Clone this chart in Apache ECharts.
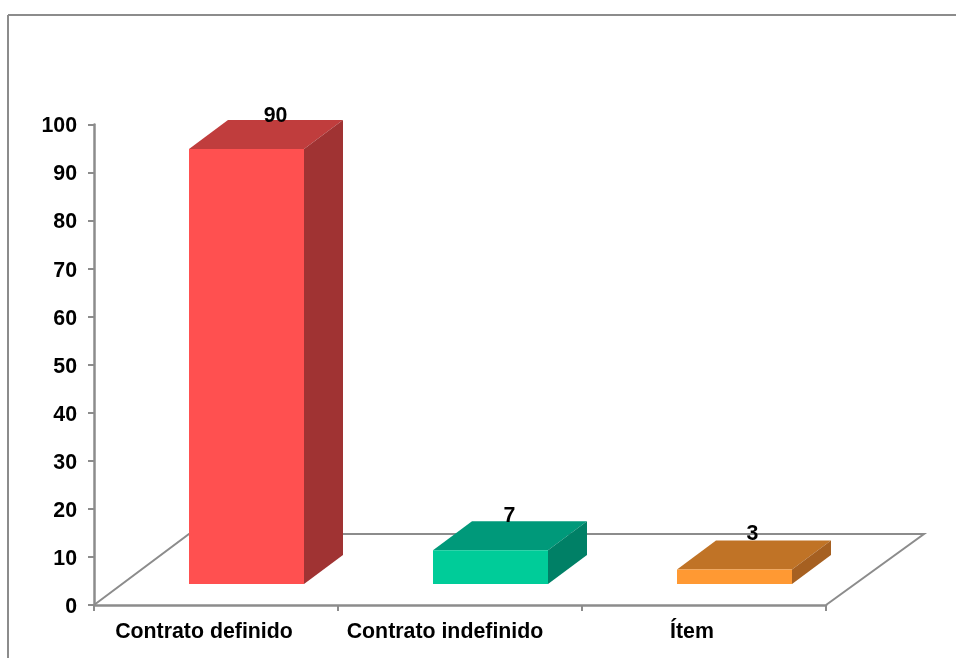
<!DOCTYPE html>
<html>
<head>
<meta charset="utf-8">
<style>
  html, body { margin: 0; padding: 0; background: #fff; }
  #chart { width: 956px; height: 658px; }
</style>
<script src="https://cdn.jsdelivr.net/npm/echarts@6/dist/echarts.min.js"></script>
</head>
<body>
<div id="chart"></div>
<script>
// Employment contract types, share per category
const categories = ['Contrato definido', 'Contrato indefinido', 'Ítem'];
const values = [90, 7, 3];
const yTicks = { min: 0, max: 100, interval: 10 };

// Face colours of each box: front, top, side
const frontColors = ['#FF5050', '#00CC99', '#FF9933'];
const topColors = ['#C03D3D', '#00997A', '#C07326'];
const sideColors = ['#A03333', '#008066', '#A66021'];

// Oblique projection of the boxes and of the floor
const boxWidth = 115;
const boxDepthX = 39;
const boxDepthY = 29;
const boxShiftX = 30;
const boxLiftY = 21;
const boxHeightScale = 1.006;
const floorDepthX = 95;
const floorDepthY = 71;
const labelShiftX = [-1, -11, -12];
const labelLiftY = [33, 34, 35];
const categoryLabelPad = [24, 30, 24];
const gray = '#8C8C8C';
const fontFamily = '"Liberation Sans", Arial, sans-serif';
const fontSize = 21.33;

const chart = echarts.init(document.getElementById('chart'), null, { renderer: 'canvas' });

function poly(points, fill) {
  return { type: 'polygon', shape: { points }, style: { fill } };
}

function renderFloor(params, api) {
  const c = params.coordSys;
  const y0 = c.y + c.height;
  return {
    type: 'polyline',
    silent: true,
    shape: {
      points: [
        [c.x, y0],
        [c.x + floorDepthX, y0 - floorDepthY],
        [c.x + c.width + floorDepthX + 3, y0 - floorDepthY],
        [c.x + c.width, y0]
      ]
    },
    style: { fill: 'none', stroke: gray, lineWidth: 2 }
  };
}

function renderBox(params, api) {
  const i = params.dataIndex;
  const value = api.value(1);
  const base = api.coord([i, 0]);
  const h = api.size([0, value])[1] * boxHeightScale;
  const left = Math.round(base[0] + boxShiftX - boxWidth / 2);
  const right = left + boxWidth;
  const bottom = base[1] - boxLiftY;
  const top = bottom - h;
  const dx = boxDepthX;
  const dy = boxDepthY;
  return {
    type: 'group',
    children: [
      poly([[left, top], [left + dx, top - dy], [right + dx, top - dy], [right, top]], topColors[i]),
      poly([[right, top], [right + dx, top - dy], [right + dx, bottom - dy], [right, bottom]], sideColors[i]),
      poly([[left, top], [right, top], [right, bottom], [left, bottom]], frontColors[i]),
      {
        type: 'text',
        z2: 10,
        style: {
          x: (left + right) / 2 + boxShiftX + labelShiftX[i],
          y: top - labelLiftY[i],
          text: String(value),
          fill: '#000',
          font: 'bold ' + fontSize + 'px ' + fontFamily,
          align: 'center',
          verticalAlign: 'middle'
        }
      }
    ]
  };
}

chart.setOption({
  animation: false,
  backgroundColor: '#fff',
  grid: { left: 94, right: 130, top: 124.5, bottom: 53 },
  xAxis: {
    type: 'category',
    data: categories.map((name, i) => ({
      value: name,
      textStyle: { padding: [0, categoryLabelPad[i], 0, 0] }
    })),
    boundaryGap: true,
    axisLine: { show: true, onZero: false, lineStyle: { color: gray, width: 2.5 } },
    axisTick: { show: true, alignWithLabel: false, length: 6, lineStyle: { color: gray, width: 2 } },
    axisLabel: {
      color: '#000',
      fontFamily: fontFamily,
      fontWeight: 'bold',
      fontSize: fontSize,
      margin: 17,
      interval: 0
    }
  },
  yAxis: {
    type: 'value',
    min: yTicks.min,
    max: yTicks.max,
    interval: yTicks.interval,
    splitLine: { show: false },
    axisLine: { show: true, lineStyle: { color: gray, width: 2.5 } },
    axisTick: { show: true, length: 6, lineStyle: { color: gray, width: 2 } },
    axisLabel: {
      margin: 17,
      formatter: '{tick|{value}}',
      rich: {
        tick: {
          color: '#000',
          fontFamily: fontFamily,
          fontWeight: 'bold',
          fontSize: fontSize,
          padding: [4, 0, 0, 0]
        }
      }
    }
  },
  series: [
    {
      type: 'custom',
      coordinateSystem: 'cartesian2d',
      renderItem: renderFloor,
      data: [[0, 0]],
      silent: true,
      clip: false,
      z: 1
    },
    {
      type: 'custom',
      coordinateSystem: 'cartesian2d',
      renderItem: renderBox,
      encode: { x: 0, y: 1 },
      data: values.map((v, i) => [i, v]),
      clip: false,
      z: 2
    }
  ],
  // Outer frame of the chart area, open on the right and at the bottom
  graphic: [
    { type: 'line', shape: { x1: 8, y1: 15, x2: 956, y2: 15 }, style: { stroke: gray, lineWidth: 2 } },
    { type: 'line', shape: { x1: 8, y1: 15, x2: 8, y2: 658 }, style: { stroke: gray, lineWidth: 2 } }
  ]
});
</script>
</body>
</html>
